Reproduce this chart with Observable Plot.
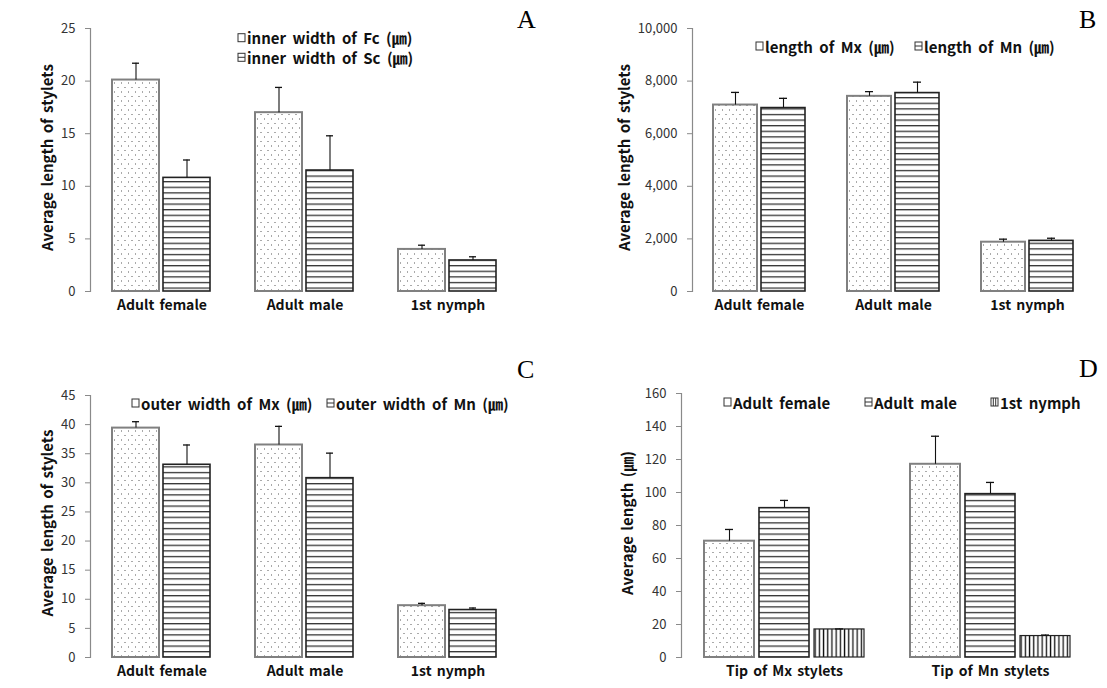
<!DOCTYPE html>
<html><head><meta charset="utf-8">
<script src="https://cdn.jsdelivr.net/npm/d3@7"></script>
<script src="https://cdn.jsdelivr.net/npm/@observablehq/plot@0.6"></script>
<style>
body{margin:0;background:#fff;}
#root{position:relative;width:1107px;height:688px;overflow:hidden;font-family:"Noto Sans CJK KR","Noto Sans",sans-serif;background:#fff;}
.panel{position:absolute;}
#overlay{position:absolute;left:0;top:0;pointer-events:none;}
</style>
</head><body>
<svg id="defs" style="position:absolute;width:0;height:0" aria-hidden="true">
  <defs>
    <pattern id="dots" patternUnits="userSpaceOnUse" width="7" height="9">
      <rect width="7" height="9" fill="#fff"/>
      <rect x="1" y="1.5" width="1" height="1" fill="#555"/>
      <rect x="4.5" y="6" width="1" height="1" fill="#555"/>
    </pattern>
    <pattern id="hstripes" patternUnits="userSpaceOnUse" width="10" height="5.6">
      <rect width="10" height="5.6" fill="#fff"/>
      <rect y="2" width="10" height="1.1" fill="#111"/>
    </pattern>
    <pattern id="vstripes" patternUnits="userSpaceOnUse" width="4.2" height="10">
      <rect width="4.2" height="10" fill="#fff"/>
      <rect x="1.5" width="1.3" height="10" fill="#111"/>
    </pattern>
  </defs>
</svg>
<div id="root"></div>
<script>
// ---------- data ----------
const groupsABC = ["Adult female", "Adult male", "1st nymph"];

// Panel A
const seriesA = ["inner width of Fc (㎛)", "inner width of Sc (㎛)"];
const fcMean = [20.1, 17.0, 4.0];
const fcSd   = [1.6, 2.4, 0.4];
const scMean = [10.8, 11.5, 2.95];
const scSd   = [1.7, 3.3, 0.35];
const ticksA = [0, 5, 10, 15, 20, 25];

// Panel B
const seriesB = ["length of Mx (㎛)", "length of Mn (㎛)"];
const mxLenMean = [7090, 7420, 1875];
const mxLenSd   = [480, 180, 115];
const mnLenMean = [6975, 7545, 1925];
const mnLenSd   = [370, 415, 100];
const ticksB = [0, 2000, 4000, 6000, 8000, 10000];

// Panel C
const seriesC = ["outer width of Mx (㎛)", "outer width of Mn (㎛)"];
const mxOutMean = [39.4, 36.5, 8.9];
const mxOutSd   = [1.1, 3.2, 0.4];
const mnOutMean = [33.1, 30.8, 8.15];
const mnOutSd   = [3.4, 4.3, 0.35];
const ticksC = [0, 5, 10, 15, 20, 25, 30, 35, 40, 45];

// Panel D
const groupsD = ["Tip of Mx stylets", "Tip of Mn stylets"];
const seriesD = ["Adult female", "Adult male", "1st nymph"];
const femaleTipMean = [70.5, 117.1];
const femaleTipSd   = [7.1, 17.0];
const maleTipMean   = [90.5, 99.0];
const maleTipSd     = [4.7, 7.1];
const nymphTipMean  = [17.0, 13.0];
const nymphTipSd    = [0.3, 0.6];
const ticksD = [0, 20, 40, 60, 80, 100, 120, 140, 160];

const yTitleABC = "Average length of stylets";
const yTitleD = "Average length (㎛)";

// ---------- helpers ----------
function rows(groups, series, means, sds) {
  const out = [];
  series.forEach((s, si) => groups.forEach((g, gi) =>
    out.push({group: g, series: s, value: means[si][gi], sd: sds[si][gi]})));
  return out;
}

const FONT = '"Noto Sans CJK KR","Noto Sans",sans-serif';
const styles = [
  {fill: "url(#dots)", stroke: "#808080", strokeWidth: 2},
  {fill: "url(#hstripes)", stroke: "#222", strokeWidth: 1.6},
  {fill: "url(#vstripes)", stroke: "#222", strokeWidth: 1.2}
];

function panel(cfg) {
  const data = rows(cfg.groups, cfg.series, cfg.means, cfg.sds);
  const marks = [];
  cfg.series.forEach((s, i) => {
    marks.push(Plot.barY(data.filter(d => d.series === s), {
      fx: "group", x: "series", y: "value", ...styles[i]
    }));
  });
  marks.push(Plot.ruleX(data, {fx: "group", x: "series", y1: "value", y2: d => d.value + d.sd, stroke: "#111", strokeWidth: 1.1}));
  marks.push(Plot.tickY(data, {fx: "group", x: "series", y: d => d.value + d.sd, inset: cfg.capInset, stroke: "#111", strokeWidth: 1.3}));
  marks.push(Plot.frame({anchor: "left", facetAnchor: "left", stroke: "#8a8a8a", strokeWidth: 1.2}));
  marks.push(Plot.axisY({ticks: cfg.ticks, tickSize: 5, tickPadding: 10, label: null, stroke: "#8a8a8a", fill: "#333", fontSize: 13}));
  marks.push(Plot.axisFx({anchor: "bottom", tickSize: 0, tickPadding: 9, label: null, fill: "#111", fontSize: 14, fontWeight: "bold"}));
  const chart = Plot.plot({
    width: cfg.width, height: cfg.height,
    marginTop: cfg.m[0], marginRight: cfg.m[1], marginBottom: cfg.m[2], marginLeft: cfg.m[3],
    style: {fontFamily: FONT, background: "transparent", color: "#222", overflow: "visible", wordSpacing: "2px"},
    fx: {domain: cfg.groups, padding: 0},
    x: {domain: cfg.series, axis: null, paddingInner: cfg.pi, paddingOuter: cfg.po},
    y: {domain: cfg.yDomain, label: null},
    marks
  });
  const wrap = document.createElement("div");
  wrap.className = "panel";
  wrap.style.left = cfg.left + "px";
  wrap.style.top = cfg.top + "px";
  wrap.appendChild(chart);
  document.getElementById("root").appendChild(wrap);
}

panel({left: 0, top: 0, width: 553, height: 330, m: [28, 34, 39, 89],
  groups: groupsABC, series: seriesA, means: [fcMean, scMean], sds: [fcSd, scSd],
  yDomain: [0, 25], ticks: ticksA, pi: 0.077, po: 0.415, capInset: 20});
panel({left: 560, top: 0, width: 547, height: 330, m: [28, 13, 39, 132],
  groups: groupsABC, series: seriesB, means: [mxLenMean, mnLenMean], sds: [mxLenSd, mnLenSd],
  yDomain: [0, 10000], ticks: ticksB, pi: 0.082, po: 0.42, capInset: 18});
panel({left: 0, top: 330, width: 553, height: 358, m: [65, 34, 31, 89],
  groups: groupsABC, series: seriesC, means: [mxOutMean, mnOutMean], sds: [mxOutSd, mnOutSd],
  yDomain: [0, 45], ticks: ticksC, pi: 0.077, po: 0.415, capInset: 20});
panel({left: 560, top: 330, width: 547, height: 358, m: [63, 14, 31, 120],
  groups: groupsD, series: seriesD, means: [femaleTipMean, maleTipMean, nymphTipMean], sds: [femaleTipSd, maleTipSd, nymphTipSd],
  yDomain: [0, 160], ticks: ticksD, pi: 0.09, po: 0.41, capInset: 21});

// ---------- overlay: titles, legends, panel letters ----------
const NS = "http://www.w3.org/2000/svg";
const ov = document.createElementNS(NS, "svg");
ov.setAttribute("id", "overlay");
ov.setAttribute("width", 1107);
ov.setAttribute("height", 688);
ov.setAttribute("font-family", FONT);
document.getElementById("root").appendChild(ov);

function el(tag, attrs, text) {
  const e = document.createElementNS(NS, tag);
  for (const k in attrs) e.setAttribute(k, attrs[k]);
  if (text != null) e.textContent = text;
  ov.appendChild(e);
  return e;
}
function ytitle(x, y, t) {
  el("text", {x: 0, y: 0, transform: `translate(${x},${y}) rotate(-90)`, "text-anchor": "middle",
    "dominant-baseline": "central", "font-size": 15, "font-weight": "bold", fill: "#111", "word-spacing": "2px"}, t);
}
ytitle(46, 157.5, yTitleABC);
ytitle(623, 157.5, yTitleABC);
ytitle(46, 523, yTitleABC);
ytitle(626, 523, yTitleD);

function icon(kind, x, cy) {
  const y = cy - 4;
  el("rect", {x, y, width: 7, height: 8, fill: "#fff", stroke: "#333", "stroke-width": 1});
  if (kind === 1) {
    el("line", {x1: x, x2: x + 7, y1: cy, y2: cy, stroke: "#333", "stroke-width": 1});
  } else if (kind === 2) {
    el("line", {x1: x + 2.3, x2: x + 2.3, y1: y, y2: y + 8, stroke: "#333", "stroke-width": 1});
    el("line", {x1: x + 4.7, x2: x + 4.7, y1: y, y2: y + 8, stroke: "#333", "stroke-width": 1});
  }
}
function legendItem(kind, x, cy, label) {
  icon(kind, x, cy);
  el("text", {x: x + 9, y: cy, "dominant-baseline": "central", "font-size": 15, "font-weight": "bold",
    fill: "#111", "word-spacing": "3px"}, label);
}
legendItem(0, 238, 37.7, seriesA[0]);
legendItem(1, 238, 57.3, seriesA[1]);
legendItem(0, 756, 46, seriesB[0]);
legendItem(1, 915, 46, seriesB[1]);
legendItem(0, 132, 403, seriesC[0]);
legendItem(1, 327, 403, seriesC[1]);
legendItem(0, 724, 402, seriesD[0]);
legendItem(1, 865, 402, seriesD[1]);
legendItem(2, 991, 402, seriesD[2]);

function letter(x, y, t) {
  el("text", {x, y, "font-family": '"Liberation Serif","DejaVu Serif",serif', "font-size": 26, fill: "#000"}, t);
}
letter(517, 28, "A");
letter(1079, 28, "B");
letter(517, 378, "C");
letter(1079, 377, "D");
</script>
</body></html>
